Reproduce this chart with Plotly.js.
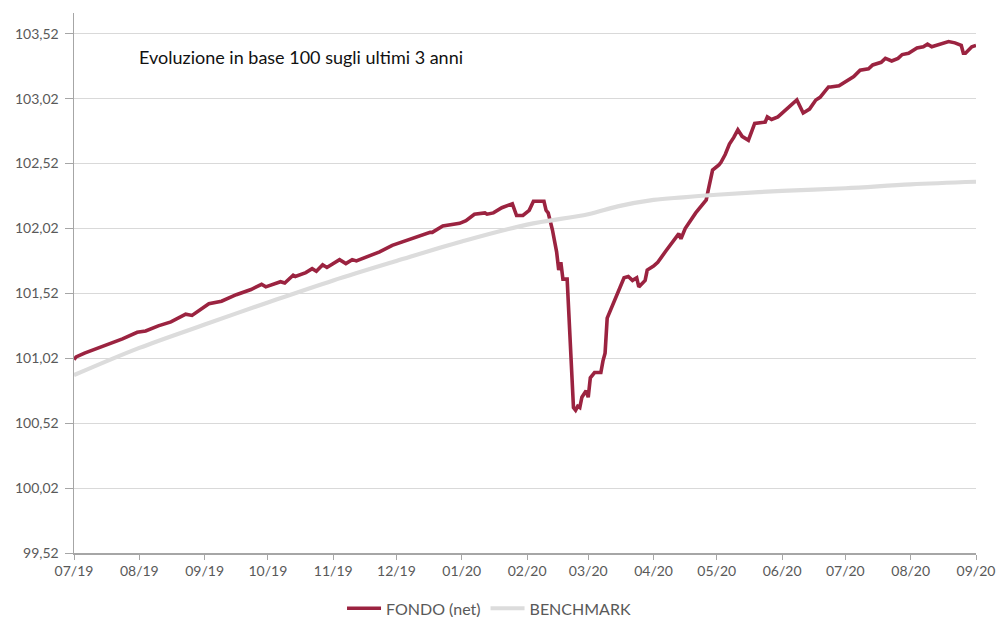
<!DOCTYPE html>
<html>
<head>
<meta charset="utf-8">
<script src="https://cdn.plot.ly/plotly-3.0.1.min.js"></script>
<style>html,body{margin:0;padding:0;background:#fff;}#chart{width:998px;height:617px;}</style>
</head>
<body>
<div id="chart"></div>
<script>
const fondoDates = ["2019-07-01","2019-07-02","2019-07-06","2019-07-13","2019-07-19","2019-07-24","2019-07-31",
"2019-08-04","2019-08-10","2019-08-16","2019-08-23","2019-08-26",
"2019-09-03","2019-09-09","2019-09-16","2019-09-23","2019-09-28","2019-09-30",
"2019-10-07","2019-10-09","2019-10-13","2019-10-14","2019-10-19","2019-10-22","2019-10-24","2019-10-27","2019-10-29",
"2019-11-04","2019-11-07","2019-11-10","2019-11-12","2019-11-15","2019-11-19","2019-11-23","2019-11-29",
"2019-12-06","2019-12-12","2019-12-17","2019-12-18","2019-12-23","2019-12-31",
"2020-01-03","2020-01-07","2020-01-12","2020-01-13","2020-01-16","2020-01-20","2020-01-25","2020-01-27","2020-01-30",
"2020-02-02","2020-02-04","2020-02-08","2020-02-09","2020-02-10","2020-02-11","2020-02-13","2020-02-15","2020-02-16","2020-02-17","2020-02-18","2020-02-20","2020-02-23","2020-02-24","2020-02-25","2020-02-26","2020-02-27","2020-02-29",
"2020-03-01","2020-03-02","2020-03-04","2020-03-07","2020-03-08","2020-03-09","2020-03-10","2020-03-15","2020-03-18","2020-03-20","2020-03-22","2020-03-24","2020-03-25","2020-03-28","2020-03-29",
"2020-04-01","2020-04-03","2020-04-07","2020-04-10","2020-04-13","2020-04-14","2020-04-16","2020-04-21","2020-04-26","2020-04-27","2020-04-29",
"2020-05-02","2020-05-03","2020-05-05","2020-05-07","2020-05-09","2020-05-11","2020-05-13","2020-05-16","2020-05-19","2020-05-22","2020-05-24","2020-05-25","2020-05-27","2020-05-30",
"2020-06-03","2020-06-08","2020-06-11","2020-06-14","2020-06-17","2020-06-19","2020-06-23","2020-06-24","2020-06-28","2020-06-30",
"2020-07-05","2020-07-08","2020-07-12","2020-07-14","2020-07-18","2020-07-20","2020-07-23","2020-07-26","2020-07-28","2020-07-31",
"2020-08-04","2020-08-07","2020-08-09","2020-08-11","2020-08-13","2020-08-16","2020-08-19","2020-08-22","2020-08-25","2020-08-26","2020-08-27","2020-08-30","2020-09-01"];
const fondoValues = [101.01,101.03,101.06,101.10,101.14,101.17,101.22,
101.23,101.27,101.30,101.36,101.35,
101.44,101.46,101.51,101.55,101.59,101.57,
101.61,101.60,101.66,101.65,101.68,101.71,101.69,101.74,101.72,
101.78,101.75,101.78,101.77,101.79,101.82,101.84,101.89,
101.93,101.96,101.99,101.99,102.04,102.06,
102.08,102.13,102.14,102.13,102.14,102.18,102.21,102.12,102.12,
102.16,102.23,102.23,102.23,102.16,102.14,102.01,101.84,101.70,101.76,101.63,101.63,100.64,100.62,100.65,100.64,100.72,100.77,
100.72,100.87,100.91,100.91,101.00,101.06,101.33,101.52,101.64,101.65,101.62,101.64,101.57,101.62,101.70,
101.73,101.76,101.85,101.91,101.98,101.94,102.02,102.14,102.24,102.32,102.47,
102.51,102.53,102.59,102.67,102.72,102.78,102.73,102.70,102.83,102.84,102.84,102.88,102.86,102.88,
102.94,103.01,102.91,102.94,103.01,103.03,103.11,103.11,103.12,103.14,
103.19,103.24,103.25,103.28,103.30,103.33,103.31,103.33,103.36,103.37,
103.41,103.42,103.44,103.42,103.43,103.45,103.46,103.45,103.43,103.37,103.37,103.42,103.43];

const benchDates = ["2019-07-01","2019-08-01","2019-09-01","2019-10-01","2019-11-01","2019-12-01","2020-01-01","2020-02-01","2020-03-01","2020-03-15","2020-04-01","2020-04-15","2020-05-01","2020-06-01","2020-07-01","2020-08-01","2020-09-01"];
const benchValues = [100.89,101.10,101.28,101.45,101.62,101.77,101.92,102.05,102.13,102.19,102.24,102.26,102.28,102.31,102.33,102.36,102.38];

const seriesNames = ["FONDO (net)","BENCHMARK"];
const chartTitle = "Evoluzione in base 100 sugli ultimi 3 anni";

const FONT = "Lato, 'Noto Sans', sans-serif";

const traces = [
  {x: fondoDates, y: fondoValues, name: seriesNames[0], type: "scatter", mode: "lines",
   line: {color: "#9b2340", width: 3.6}},
  {x: benchDates, y: benchValues, name: seriesNames[1], type: "scatter", mode: "lines",
   line: {color: "#dcdcdc", width: 4.2, shape: "spline"}}
];

const layout = {
  width: 998, height: 617,
  margin: {l: 74, r: 22, t: 13, b: 64},
  paper_bgcolor: "#fff", plot_bgcolor: "#fff",
  separators: ", ",
  font: {family: FONT, color: "#595959", size: 14},
  showlegend: true,
  legend: {orientation: "h", xref: "container", yref: "container", x: 0.49, xanchor: "center",
           y: 0.014, yanchor: "middle",
           font: {size: 16, color: "#595959"}, itemwidth: 34, traceorder: "normal"},
  xaxis: {type: "date", range: ["2019-07-01","2020-09-01"], dtick: "M1", tick0: "2019-07-01",
          tickformat: "%m/%y", showgrid: false, zeroline: false, automargin: false,
          showline: true, linecolor: "#a6a6a6", linewidth: 1.5,
          ticks: "outside", ticklen: 5, tickcolor: "#a6a6a6",
          tickfont: {size: 14, color: "#595959"}},
  yaxis: {range: [99.52, 103.68], tickmode: "linear", tick0: 99.52, dtick: 0.5, tickformat: ".2f",
          showgrid: true, gridcolor: "#d9d9d9", gridwidth: 1, zeroline: false, automargin: false,
          showline: true, linecolor: "#a6a6a6", linewidth: 1.5,
          ticks: "outside", ticklen: 8, tickcolor: "#a6a6a6", ticklabelstandoff: 3,
          tickfont: {size: 14, color: "#595959"}},
  annotations: [{text: chartTitle, xref: "paper", yref: "paper", x: 0.07, y: 0.918,
                 xanchor: "left", yanchor: "middle", showarrow: false,
                 font: {size: 18, color: "#111", family: FONT}}]
};

Plotly.newPlot("chart", traces, layout, {displayModeBar: false, staticPlot: true});
</script>
</body>
</html>
